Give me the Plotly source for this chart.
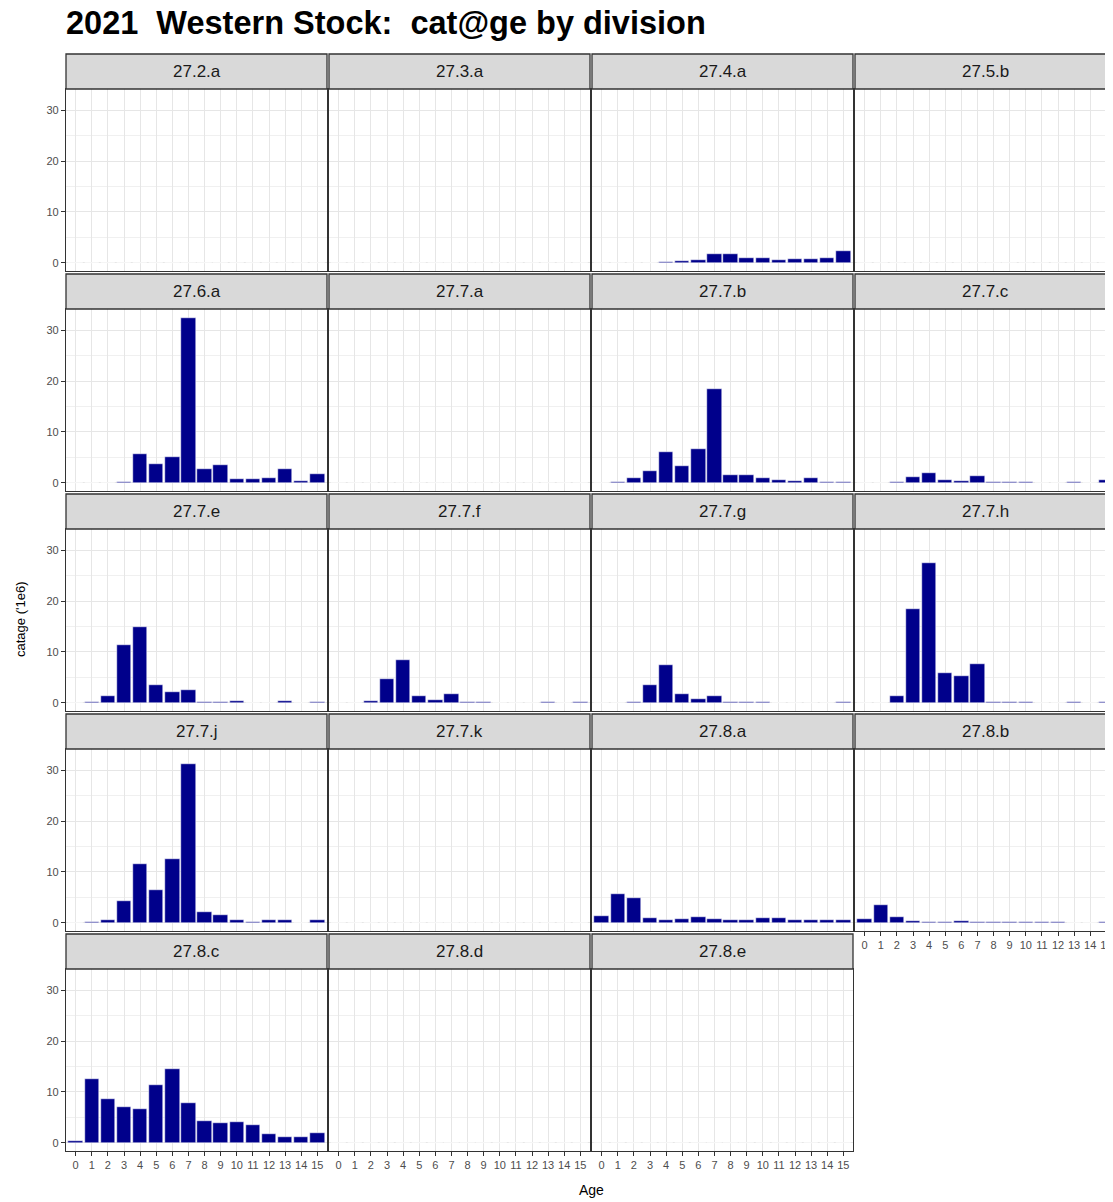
import plotly.graph_objects as go

# catch-at-age (millions) by ICES division, ages 0..15
ages = list(range(16))
divisions = ["27.2.a", "27.3.a", "27.4.a", "27.5.b",
             "27.6.a", "27.7.a", "27.7.b", "27.7.c",
             "27.7.e", "27.7.f", "27.7.g", "27.7.h",
             "27.7.j", "27.7.k", "27.8.a", "27.8.b",
             "27.8.c", "27.8.d", "27.8.e"]

c_27_2_a = [0] * 16
c_27_3_a = [0] * 16
c_27_4_a = [0, 0, 0, 0, 0.1, 0.35, 0.6, 1.8, 1.8, 0.85, 0.85, 0.5, 0.8, 0.8, 0.85, 2.3]
c_27_5_b = [0] * 16
c_27_6_a = [0, 0, 0, 0.2, 5.7, 3.7, 5.1, 32.5, 2.7, 3.55, 0.72, 0.66, 0.92, 2.63, 0.4, 1.78]
c_27_7_a = [0] * 16
c_27_7_b = [0, 0.07, 0.92, 2.37, 6.05, 3.2, 6.6, 18.4, 1.58, 1.58, 0.92, 0.53, 0.26, 0.86, 0.05, 0.2]
c_27_7_c = [0, 0, 0.07, 1.18, 2.0, 0.46, 0.4, 1.38, 0.05, 0.05, 0.05, 0.03, 0.03, 0.07, 0, 0.5]
c_27_7_e = [0, 0.05, 1.3, 11.4, 15.0, 3.5, 2.04, 2.57, 0.05, 0.07, 0.33, 0.02, 0.02, 0.4, 0, 0.13]
c_27_7_f = [0, 0, 0.4, 4.6, 8.4, 1.3, 0.53, 1.78, 0.07, 0.07, 0.03, 0.03, 0.03, 0.1, 0, 0.1]
c_27_7_g = [0, 0, 0.13, 3.55, 7.43, 1.78, 0.79, 1.38, 0.05, 0.05, 0.05, 0, 0.03, 0.03, 0, 0.05]
c_27_7_h = [0, 0.03, 1.25, 18.5, 27.6, 5.9, 5.3, 7.6, 0.13, 0.13, 0.13, 0.03, 0.03, 0.07, 0, 0.15]
c_27_7_j = [0, 0.05, 0.5, 4.3, 11.6, 6.5, 12.6, 31.3, 2.2, 1.5, 0.46, 0.07, 0.6, 0.6, 0, 0.46]
c_27_7_k = [0] * 16
c_27_8_a = [1.38, 5.66, 4.87, 0.92, 0.6, 0.8, 1.05, 0.72, 0.46, 0.6, 1.0, 0.85, 0.46, 0.46, 0.53, 0.53]
c_27_8_b = [0.72, 3.5, 1.18, 0.33, 0.13, 0.13, 0.33, 0.2, 0.2, 0.2, 0.2, 0.2, 0.07, 0.03, 0.03, 0.07]
c_27_8_c = [0.4, 12.5, 8.7, 7.0, 6.6, 11.4, 14.6, 7.8, 4.3, 3.8, 4.1, 3.5, 1.7, 1.2, 1.2, 2.0]
c_27_8_d = [0] * 16
c_27_8_e = [0] * 16

values = [c_27_2_a, c_27_3_a, c_27_4_a, c_27_5_b,
          c_27_6_a, c_27_7_a, c_27_7_b, c_27_7_c,
          c_27_7_e, c_27_7_f, c_27_7_g, c_27_7_h,
          c_27_7_j, c_27_7_k, c_27_8_a, c_27_8_b,
          c_27_8_c, c_27_8_d, c_27_8_e]

# page body adds an 8px margin, so work in page pixels minus that offset
OFF = 8
W, H = 1113, 1202 - OFF
col_x = [66, 329, 592, 855]
panel_w = 261
row_top = 54
row_pitch = 220
strip_h = 35
plot_h = 182
ncol = 4
n = len(divisions)

BORDER = "#333333"
GRID = "#E6E6E6"
TXT = "#4D4D4D"
FONT = "Liberation Sans, Arial"


def fx(px):
    return min((px - OFF) / W, 1.0)


def fy(py):
    return 1 - (py - OFF) / H


fig = go.Figure()
shapes = []
annotations = []

for i, (div, vals) in enumerate(zip(divisions, values)):
    r, c = divmod(i, ncol)
    k = "" if i == 0 else str(i + 1)
    x0, x1 = col_x[c], col_x[c] + panel_w
    st = row_top + r * row_pitch
    p0 = st + strip_h
    p1 = p0 + plot_h

    bottom = (i + ncol) >= n
    left = c == 0

    fig.add_trace(go.Bar(
        x=ages, y=vals, width=0.9,
        marker=dict(color="#00008B", line=dict(color="white", width=0.5)),
        xaxis="x" + k, yaxis="y" + k, showlegend=False, name=div,
    ))

    fig.layout["xaxis" + k] = dict(
        domain=[fx(x0), fx(x1)], anchor="y" + k, range=[-0.6, 15.6],
        tickvals=ages, ticktext=[str(a) for a in ages],
        showticklabels=bottom, ticks="outside" if bottom else "",
        ticklen=4, tickwidth=1.1, tickcolor=BORDER,
        tickfont=dict(size=11, color=TXT, family=FONT),
        showgrid=True, gridcolor=GRID, gridwidth=1.3, zeroline=False,
        showline=True, mirror=True, linecolor=BORDER, linewidth=1.3,
        fixedrange=True,
    )
    fig.layout["yaxis" + k] = dict(
        domain=[fy(p1), fy(p0)], anchor="x" + k, range=[-1.63, 34.23],
        tickvals=[0, 10, 20, 30],
        showticklabels=left, ticks="outside" if left else "",
        ticklen=4, tickwidth=1.1, tickcolor=BORDER,
        tickfont=dict(size=11, color=TXT, family=FONT),
        showgrid=True, gridcolor=GRID, gridwidth=1.3, zeroline=False,
        minor=dict(tickvals=[5, 15, 25], showgrid=True, gridcolor="#F0F0F0", gridwidth=0.7),
        showline=True, mirror=True, linecolor=BORDER, linewidth=1.3,
        fixedrange=True,
    )

    # facet strip
    shapes.append(dict(
        type="rect", xref="paper", yref="paper",
        x0=fx(x0), x1=fx(x1), y0=fy(p0), y1=fy(st),
        fillcolor="#D9D9D9", line=dict(color=BORDER, width=1.3), layer="above",
    ))
    annotations.append(dict(
        text=div, xref="paper", yref="paper",
        x=fx(x0 + panel_w / 2),
        y=fy(st + strip_h / 2), xanchor="center", yanchor="middle",
        showarrow=False, font=dict(size=17, color="#1A1A1A", family=FONT),
    ))

annotations.append(dict(
    text="<b>2021\u00a0\u00a0Western Stock:\u00a0\u00a0cat@ge by division</b>",
    xref="paper", yref="paper", x=fx(64), y=fy(23), xanchor="left", yanchor="middle",
    showarrow=False, font=dict(size=32.5, color="black", family=FONT),
))
annotations.append(dict(
    text="catage ('1e6)", xref="paper", yref="paper", x=fx(20), y=fy(620),
    xanchor="center", yanchor="middle", textangle=-90, showarrow=False,
    font=dict(size=13, color="black", family=FONT),
))
annotations.append(dict(
    text="Age", xref="paper", yref="paper", x=fx(591), y=fy(1190),
    xanchor="center", yanchor="middle", showarrow=False,
    font=dict(size=14, color="black", family=FONT),
))

fig.update_layout(
    width=W, height=H, autosize=False,
    margin=dict(l=0, r=0, t=0, b=0),
    paper_bgcolor="white", plot_bgcolor="white",
    bargap=0, shapes=shapes, annotations=annotations,
)

fig.write_html("out.html")
